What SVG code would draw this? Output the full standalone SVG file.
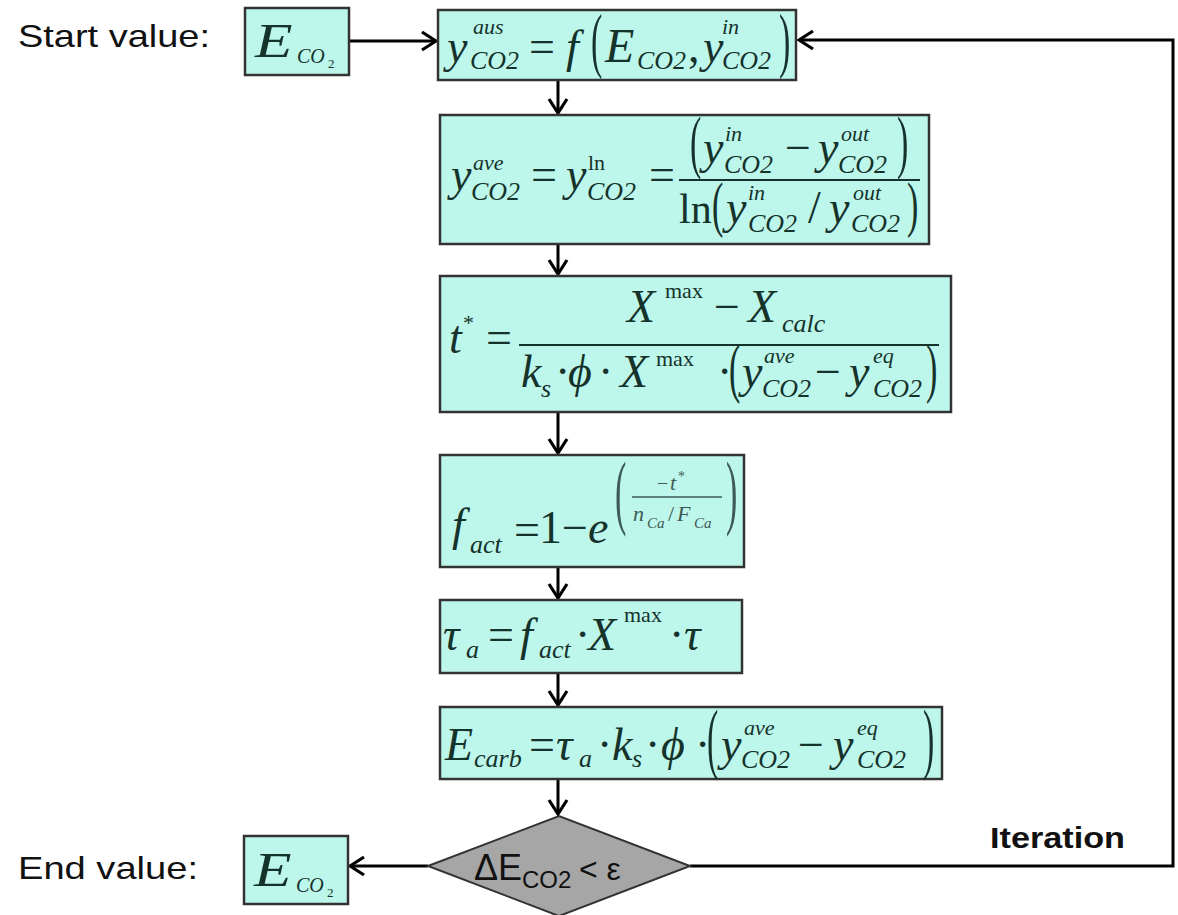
<svg xmlns="http://www.w3.org/2000/svg" width="1178" height="915" viewBox="0 0 1178 915">
<style>
.box{fill:#bdf7ec;stroke:#333;stroke-width:2.5}
.dia{fill:#a6a6a6;stroke:#333;stroke-width:2}
.m{font-family:"Liberation Serif","Times New Roman",serif;font-style:italic;fill:#15322b}
.n{font-family:"Liberation Serif","Times New Roman",serif;font-style:normal;fill:#15322b}
.b{font-size:46px}
.sb{font-size:26px}
.sp{font-size:22px}
.pr{font-family:"Liberation Serif","Times New Roman",serif;font-size:34px;fill:#15322b}
.lt{fill:#3d5a54}
.bar{stroke:#15322b;stroke-width:1.8}
.lbl{font-family:"Liberation Sans",Arial,sans-serif;fill:#111}
.con{fill:none;stroke:#000;stroke-width:3}
</style>
<defs>
<marker id="ah" viewBox="0 0 18 22" refX="16" refY="11" markerWidth="18" markerHeight="22" markerUnits="userSpaceOnUse" orient="auto">
<path d="M2,2 L16,11 L2,20" fill="none" stroke="#000" stroke-width="3.2"/>
</marker>
</defs>
<rect width="1178" height="915" fill="#fff"/>

<g id="connectors">
<path class="con" d="M349,41 H436" marker-end="url(#ah)"/>
<path class="con" d="M558,80 V113" marker-end="url(#ah)"/>
<path class="con" d="M558,244 V274" marker-end="url(#ah)"/>
<path class="con" d="M558,412 V453" marker-end="url(#ah)"/>
<path class="con" d="M558,567 V598" marker-end="url(#ah)"/>
<path class="con" d="M558,673 V705" marker-end="url(#ah)"/>
<path class="con" d="M558,779 V814" marker-end="url(#ah)"/>
<path class="con" d="M428,866 H350" marker-end="url(#ah)"/>
<path class="con" d="M690,866 H1173 V40 H799" marker-end="url(#ah)"/>
</g>

<g id="start-label">
<text class="lbl" x="18" y="47" font-size="32" textLength="192" lengthAdjust="spacingAndGlyphs">Start value:</text>
</g>
<g id="start-box">
<rect class="box" x="245" y="8" width="104" height="67"/>
<text class="m" font-size="48" transform="matrix(1.28,0,0,1,255,57)">E</text>
<text class="m" font-size="20" x="297" y="63">CO</text>
<text class="n" font-size="13" x="328" y="68">2</text>
</g>

<g id="box1">
<rect class="box" x="438" y="10" width="358" height="70"/>
<text class="m b" x="447" y="62">y</text>
<text class="m sp" x="473" y="34">aus</text>
<text class="m sb" x="470" y="69">CO2</text>
<text class="n b" x="529" y="62">=</text>
<text class="m b" x="566" y="62">f</text>
<text class="pr" transform="matrix(1,0,0,2.09,591,64.4)">(</text>
<text class="m" font-size="48" x="605" y="62">E</text>
<text class="m sb" x="637" y="69">CO2</text>
<text class="n b" x="688" y="62">,</text>
<text class="m b" x="703" y="62">y</text>
<text class="m sp" x="722" y="34">in</text>
<text class="m sb" x="722" y="69">CO2</text>
<text class="pr" transform="matrix(1,0,0,2.09,779,64.4)">)</text>
</g>

<g id="box2">
<rect class="box" x="440" y="115" width="489" height="129"/>
<text class="m b" x="451" y="190">y</text>
<text class="m sp" x="473" y="170">ave</text>
<text class="m sb" x="471" y="200">CO2</text>
<text class="n b" x="531" y="190">=</text>
<text class="m b" x="566" y="190">y</text>
<text class="n sp" x="588" y="170">ln</text>
<text class="m sb" x="587" y="200">CO2</text>
<text class="n b" x="649" y="190">=</text>
<line class="bar" x1="679" y1="180" x2="920" y2="180"/>
<text class="pr" transform="matrix(1,0,0,2.03,690,164.8)">(</text>
<text class="m b" x="703" y="163">y</text>
<text class="m sp" x="725" y="141">in</text>
<text class="m sb" x="724" y="173">CO2</text>
<text class="n b" x="785" y="163">−</text>
<text class="m b" x="818" y="163">y</text>
<text class="m sp" x="841" y="141">out</text>
<text class="m sb" x="838" y="173">CO2</text>
<text class="pr" transform="matrix(1,0,0,2.03,897,164.8)">)</text>
<text class="n" font-size="42" x="679" y="223">ln</text>
<text class="pr" transform="matrix(1,0,0,1.82,712,225.1)">(</text>
<text class="m b" x="726" y="223">y</text>
<text class="m sp" x="748" y="200">in</text>
<text class="m sb" x="748" y="232">CO2</text>
<text class="n b" x="808" y="223">/</text>
<text class="m b" x="829" y="223">y</text>
<text class="m sp" x="853" y="200">out</text>
<text class="m sb" x="851" y="232">CO2</text>
<text class="pr" transform="matrix(1,0,0,1.82,907,225.1)">)</text>
</g>

<g id="box3">
<rect class="box" x="440" y="276" width="511" height="136"/>
<text class="m b" x="449" y="353">t</text>
<text class="n sp" x="463" y="330">*</text>
<text class="n b" x="486" y="353">=</text>
<line class="bar" x1="519" y1="345" x2="939" y2="345"/>
<text class="m b" x="627" y="322">X</text>
<text class="n sp" x="665" y="298">max</text>
<text class="n b" x="714" y="322">−</text>
<text class="m b" x="748" y="322">X</text>
<text class="m sb" x="782" y="332">calc</text>
<text class="m b" x="521" y="387">k</text>
<text class="m sb" x="541" y="397">s</text>
<text class="n b" x="555" y="387">·</text>
<text class="m b" x="568" y="387">ϕ</text>
<text class="n b" x="598" y="387">·</text>
<text class="m b" x="620" y="387">X</text>
<text class="n sp" x="656" y="366">max</text>
<text class="n b" x="717" y="387">·</text>
<text class="pr" transform="matrix(1,0,0,1.93,729,390.4)">(</text>
<text class="m b" x="742" y="387">y</text>
<text class="m sp" x="764" y="363">ave</text>
<text class="m sb" x="762" y="397">CO2</text>
<text class="n b" x="815" y="387">−</text>
<text class="m b" x="849" y="387">y</text>
<text class="m sp" x="873" y="363">eq</text>
<text class="m sb" x="873" y="397">CO2</text>
<text class="pr" transform="matrix(1,0,0,1.93,926,390.4)">)</text>
</g>

<g id="box4">
<rect class="box" x="440" y="455" width="304" height="112"/>
<text class="m b" x="452" y="540">f</text>
<text class="m sb" x="470" y="553">act</text>
<text class="n b" x="514" y="545">=</text>
<text class="n b" x="539" y="543">1</text>
<text class="n b" x="562" y="543">−</text>
<text class="m b" x="588" y="543">e</text>
<text class="pr lt" transform="matrix(1,0,0,2.43,615,519.4)">(</text>
<text class="n lt" font-size="20" x="657" y="490">−</text>
<text class="m lt" font-size="22" x="670" y="490">t</text>
<text class="n lt" font-size="14" x="678" y="481">*</text>
<line x1="632" y1="497" x2="722" y2="497" stroke="#3d5a54" stroke-width="1.5"/>
<text class="m lt" font-size="22" x="633" y="521">n</text>
<text class="m lt" font-size="15" x="647" y="528">Ca</text>
<text class="n lt" font-size="22" x="668" y="521">/</text>
<text class="m lt" font-size="22" x="677" y="521">F</text>
<text class="m lt" font-size="15" x="694" y="528">Ca</text>
<text class="pr lt" transform="matrix(1,0,0,2.43,726,519.4)">)</text>
</g>

<g id="box5">
<rect class="box" x="440" y="600" width="302" height="73"/>
<text class="m b" x="443" y="650">τ</text>
<text class="m sb" x="466" y="658">a</text>
<text class="n b" x="488" y="650">=</text>
<text class="m b" x="520" y="650">f</text>
<text class="m sb" x="539" y="658">act</text>
<text class="n b" x="575" y="650">·</text>
<text class="m b" x="588" y="650">X</text>
<text class="n sp" x="624" y="622">max</text>
<text class="n b" x="669" y="650">·</text>
<text class="m b" x="684" y="650">τ</text>
</g>

<g id="box6">
<rect class="box" x="440" y="707" width="502" height="72"/>
<text class="m b" x="445" y="760">E</text>
<text class="m sb" x="474" y="767">carb</text>
<text class="n b" x="529" y="760">=</text>
<text class="m b" x="556" y="760">τ</text>
<text class="m sb" x="579" y="767">a</text>
<text class="n b" x="597" y="760">·</text>
<text class="m b" x="612" y="760">k</text>
<text class="m sb" x="632" y="767">s</text>
<text class="n b" x="645" y="760">·</text>
<text class="m b" x="661" y="760">ϕ</text>
<text class="n b" x="695" y="760">·</text>
<text class="pr" transform="matrix(1,0,0,2.33,707,764)">(</text>
<text class="m b" x="721" y="760">y</text>
<text class="m sp" x="744" y="735">ave</text>
<text class="m sb" x="741" y="768">CO2</text>
<text class="n b" x="798" y="760">−</text>
<text class="m b" x="833" y="760">y</text>
<text class="m sp" x="857" y="735">eq</text>
<text class="m sb" x="857" y="768">CO2</text>
<text class="pr" transform="matrix(1,0,0,2.33,923,764)">)</text>
</g>

<g id="decision">
<polygon class="dia" points="428,866 559,816 690,866 559,916"/>
<text class="lbl" font-size="36" x="474" y="880">ΔE</text>
<text class="lbl" font-size="24" x="522" y="888">CO2</text>
<text class="lbl" font-size="32" x="579" y="880">&lt; ε</text>
</g>

<g id="end-label">
<text class="lbl" x="18" y="879" font-size="32" textLength="180" lengthAdjust="spacingAndGlyphs">End value:</text>
</g>
<g id="end-box">
<rect class="box" x="244" y="836" width="104" height="68"/>
<text class="m" font-size="48" transform="matrix(1.28,0,0,1,254,886)">E</text>
<text class="m" font-size="20" x="296" y="892">CO</text>
<text class="n" font-size="13" x="327" y="897">2</text>
</g>

<g id="iteration-label">
<text class="lbl" x="990" y="848" font-size="30" font-weight="bold" textLength="135" lengthAdjust="spacingAndGlyphs">Iteration</text>
</g>
</svg>
